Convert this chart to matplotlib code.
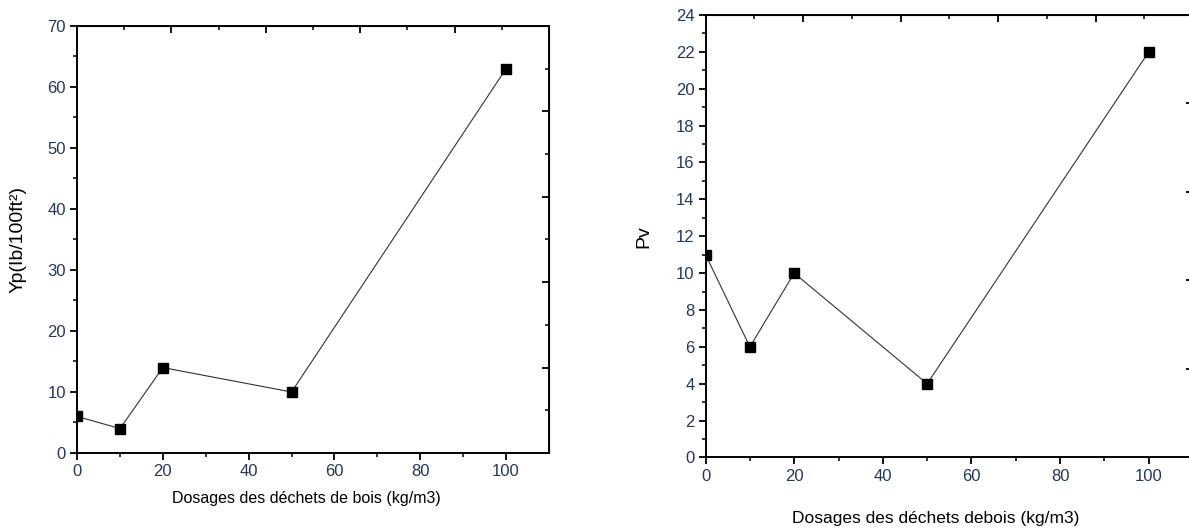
import matplotlib
matplotlib.use("Agg")
import matplotlib.pyplot as plt
from matplotlib.ticker import MultipleLocator, FixedLocator, NullFormatter

# data
dosage = [0, 10, 20, 50, 100]
yp = [6, 4, 14, 10, 63]
pv = [11, 6, 10, 4, 22]

xlabel_left = "Dosages des déchets de bois (kg/m3)"
xlabel_right = "Dosages des déchets debois (kg/m3)"
ylabel_left = "Yp(Ib/100ft²)"
ylabel_right = "Pv"

plt.rcParams["font.family"] = ["Liberation Sans", "DejaVu Sans"]

tick_color = "#24385a"

fig = plt.figure(figsize=(11.89, 5.30), dpi=100)
axL = fig.add_axes([0.0648, 0.1453, 0.3969, 0.8057])
axR = fig.add_axes([0.5934, 0.1368, 0.4100, 0.8349])


def style(ax, ymax, ymaj, ymin, top_maj, top_min, right_maj, right_min):
    ax.set_xlim(0, 110)
    ax.set_ylim(0, ymax)
    ax.xaxis.set_major_locator(FixedLocator([0, 20, 40, 60, 80, 100]))
    ax.xaxis.set_minor_locator(FixedLocator([10, 30, 50, 70, 90]))
    ax.yaxis.set_major_locator(MultipleLocator(ymaj))
    ax.yaxis.set_minor_locator(MultipleLocator(ymin))
    for s in ax.spines.values():
        s.set_linewidth(1.4)
    ax.tick_params(which="major", direction="out", length=5, width=1.3,
                   labelsize=12, labelcolor=tick_color, pad=3)
    ax.tick_params(which="minor", direction="out", length=3, width=1.1)

    top = ax.secondary_xaxis("top")
    top.xaxis.set_major_locator(FixedLocator(top_maj))
    top.xaxis.set_minor_locator(FixedLocator(top_min))
    top.xaxis.set_major_formatter(NullFormatter())
    top.tick_params(which="major", direction="in", length=5, width=1.3)
    top.tick_params(which="minor", direction="in", length=3, width=1.1)

    right = ax.secondary_yaxis("right")
    right.yaxis.set_major_locator(FixedLocator(right_maj))
    right.yaxis.set_minor_locator(FixedLocator(right_min))
    right.yaxis.set_major_formatter(NullFormatter())
    right.tick_params(which="major", direction="in", length=5, width=1.3)
    right.tick_params(which="minor", direction="in", length=3, width=1.1)


style(axL, 70, 10, 5,
      [22, 44, 66, 88], [11, 33, 55, 77, 99],
      [14, 28, 42, 56], [7, 21, 35, 49, 63])
style(axR, 24, 2, 1,
      [22, 44, 66, 88], [11, 33, 55, 77, 99],
      [4.8, 9.6, 14.4, 19.2], [2.4, 7.2, 12.0, 16.8, 21.6])

axL.plot(dosage, yp, color="#333333", lw=0.8, marker="s", ms=7.5,
         mfc="black", mec="black")
axR.plot(dosage, pv, color="#333333", lw=0.8, marker="s", ms=7.5,
         mfc="black", mec="black")

axL.set_xlabel(xlabel_left, fontsize=11.5, color="black")
axL.xaxis.set_label_coords(0.485, -0.088)
axR.set_xlabel(xlabel_right, fontsize=12.5, color="black")
axR.xaxis.set_label_coords(0.473, -0.122)

axL.set_ylabel(ylabel_left, fontsize=14, color="black")
axL.yaxis.set_label_coords(-0.106, 0.5)
axR.set_ylabel(ylabel_right, fontsize=14, color="black")
axR.yaxis.set_label_coords(-0.11, 0.5)

fig.savefig("out.png", dpi=100)
